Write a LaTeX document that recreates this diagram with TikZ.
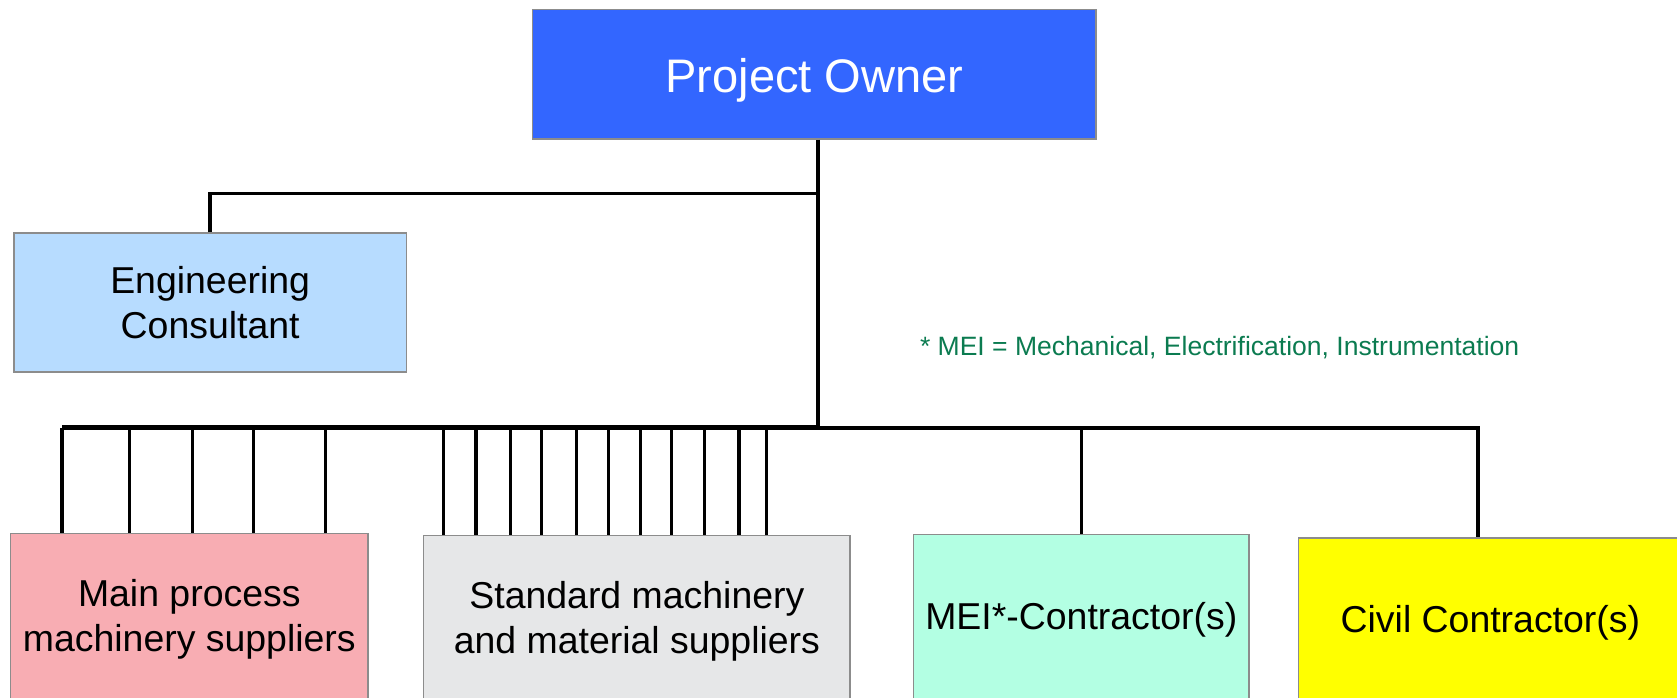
\documentclass[tikz,border=0pt]{standalone}
\usepackage{fontspec}
\setmainfont{Liberation Sans}
\usetikzlibrary{calc}

\definecolor{ownerblue}{RGB}{51,102,255}
\definecolor{consultblue}{RGB}{183,220,255}
\definecolor{mainpink}{RGB}{248,173,179}
\definecolor{stdgray}{RGB}{230,231,232}
\definecolor{meimint}{RGB}{179,255,227}
\definecolor{civilyellow}{RGB}{255,255,0}
\definecolor{notegreen}{RGB}{11,123,80}
\definecolor{edgegray}{RGB}{140,140,140}

\tikzset{
    party/.style={draw=edgegray,line width=1.5pt,rectangle,align=center,inner sep=0pt,
        font=\fontsize{35}{42}\selectfont},
    link/.style={line width=3.2pt},
    tap/.style={line width=3pt}
}

\begin{document}
\begin{tikzpicture}[x=1pt,y=-1pt]
        \useasboundingbox (0,0) rectangle (1568,652);
        \clip (0,0) rectangle (1568,652);

        \node[party,fill=ownerblue,text=white,minimum width=527pt,minimum height=121pt,
            font=\fontsize{44}{50}\selectfont] (owner) at (761.5,69.5) {\raisebox{-17pt}[0pt][0pt]{Project Owner}};
        \node[party,fill=consultblue,minimum width=367pt,minimum height=130pt] (consult) at (196.5,283) {Engineering\\Consultant};

        \begin{scope}[every node/.append style={anchor=north,minimum height=160pt}]
            \node[party,fill=mainpink,minimum width=334pt] (mainsup) at (177,498) {Main process\\machinery suppliers};
            \node[party,fill=stdgray,minimum width=399pt] (stdsup) at (595.5,500) {Standard machinery\\and material suppliers};
            \node[party,fill=meimint,minimum width=314pt] (mei) at (1011,499) {MEI*-Contractor(s)};
            \node[party,fill=civilyellow,minimum width=359pt] (civil) at (1393.5,502) {Civil Contractor(s)};
        \end{scope}

        \node[anchor=west,text=notegreen,inner sep=0pt,font=\fontsize{24.8}{28}\selectfont] (note) at (860,325)
            {* MEI = Mechanical, Electrification, Instrumentation};

        \coordinate (hub) at (765,181);
        \coordinate (bus) at (765,400);
        \coordinate (busend) at (58,400);

        \draw[link] (owner.south -| bus) -- (bus);
        \draw[link] (consult.north) |- (hub);
        \draw[line width=4.5pt] (busend) -- (bus);
        \draw[link] (bus) -| ([xshift=-11.5pt]civil.north);
        \draw[link] (mei.north |- bus) -- (mei.north);

        \foreach \x in {58,121,180,237,304} {
            \draw[tap] (bus -| \x,0) -- (mainsup.north -| \x,0);
        }
        \foreach \x in {415,445,477,506,539,569,599,628,659,691,717} {
            \draw[tap] (bus -| \x,0) -- (stdsup.north -| \x,0);
        }
\end{tikzpicture}
\end{document}
